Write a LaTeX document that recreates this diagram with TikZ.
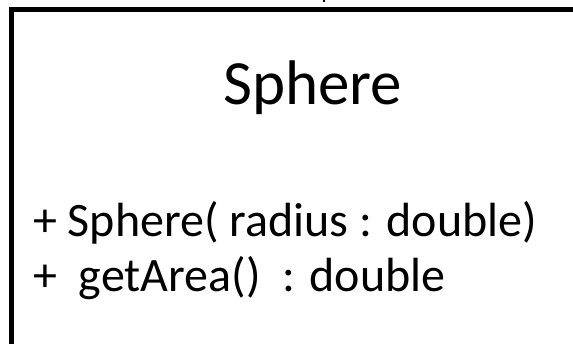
\documentclass[tikz,border=0pt]{standalone}
\usepackage{fontspec}
\setmainfont{Carlito}
\begin{document}
\begin{tikzpicture}[x=1pt,y=-1pt,
  frame/.style={line width=5.3pt},
  title/.style={font=\fontsize{63}{70}\selectfont, anchor=base west, inner sep=0pt},
  member/.style={font=\fontsize{48}{54}\selectfont, anchor=base west, inner sep=0pt}]
  \useasboundingbox (0,0) rectangle (573,344);
  \begin{scope}
    \clip (0,0) rectangle (573,344);
    % class box, running on past the right and bottom edges
    \draw[frame] (11.6,360) -- (11.6,9.8) -- (590,9.8);
    % stub of a link entering from above
    \draw[line width=1.5pt] (324,-2) -- (324,2.5);
  \end{scope}
  % class name
  \node[title] (name) at (223,105) {Sphere};
  % operations
  \node[member] (op1) at (33,237) {+ Sphere( radius : double)};
  \node[member] (op2) at (33,292) {+\ \ getArea()\ \ : double};
\end{tikzpicture}
\end{document}
